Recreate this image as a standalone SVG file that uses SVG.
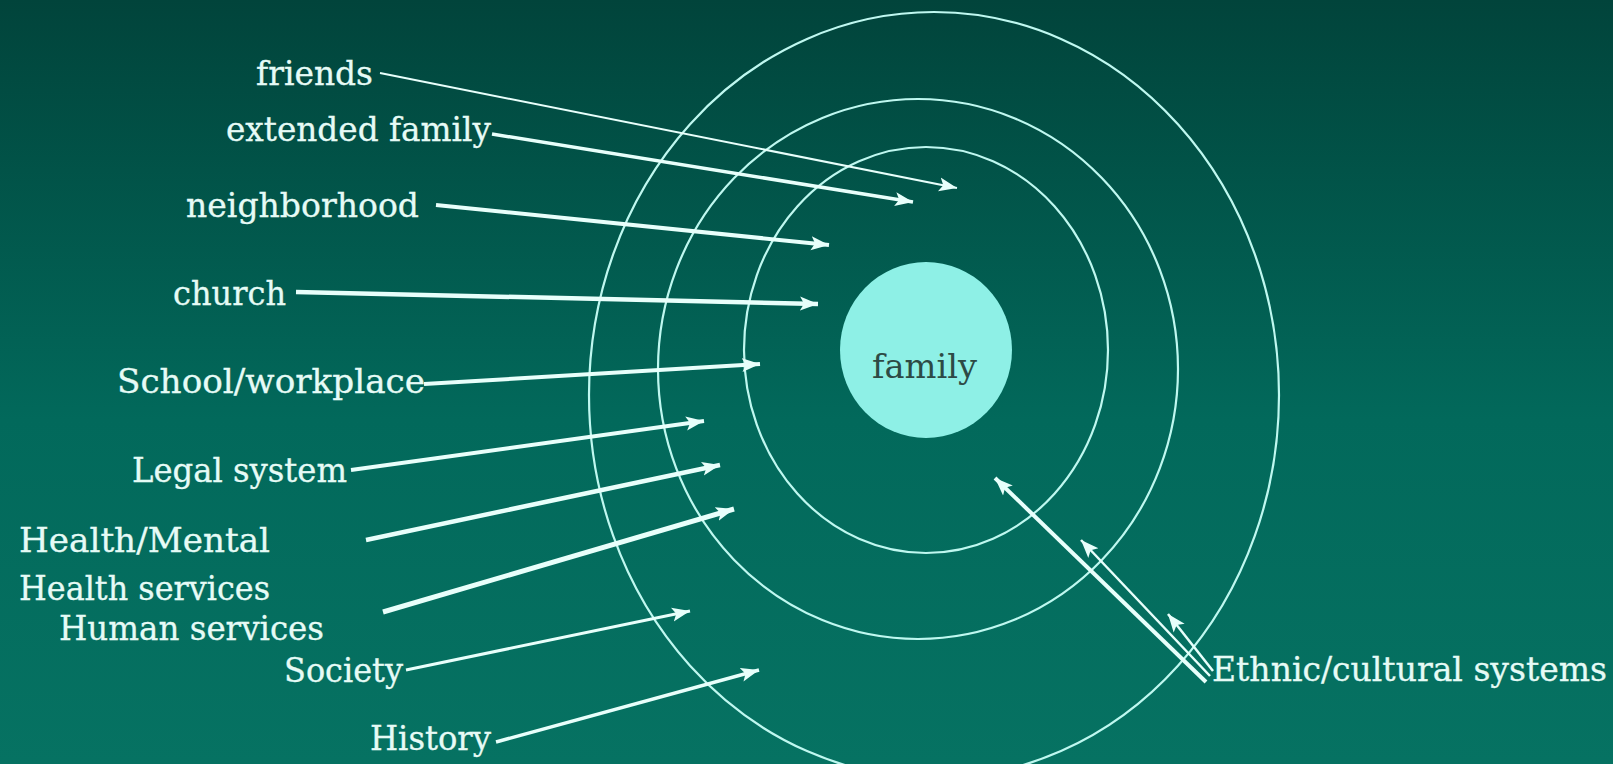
<svg xmlns="http://www.w3.org/2000/svg" width="1613" height="764" viewBox="0 0 1613 764">
  <defs>
    <linearGradient id="bg" x1="0" y1="0" x2="0" y2="1">
      <stop offset="0" stop-color="#01443b"/>
      <stop offset="0.55" stop-color="#02695b"/>
      <stop offset="1" stop-color="#067262"/>
    </linearGradient>
    <marker id="ah" markerUnits="userSpaceOnUse" markerWidth="20" markerHeight="16" refX="18" refY="8" orient="auto" viewBox="0 0 20 16">
      <path d="M0,1 L18,8 L0,15 L4,8 Z" fill="#e8fffb"/>
    </marker>
    <style>
      .lbl { font-family: "DejaVu Serif", "Liberation Serif", serif; font-size: 33px; fill: #e6fbf6; stroke: #e6fbf6; stroke-width: 0.3; }
      .ring { fill: none; stroke: #bff8f0; stroke-width: 2.2; }
      .arr { stroke: #e8fffb; fill: none; stroke-linecap: butt; marker-end: url(#ah); }
    </style>
  </defs>
  <rect x="0" y="0" width="1613" height="764" fill="url(#bg)"/>

  <g id="rings">
    <ellipse id="ring-outer" class="ring" cx="934" cy="395" rx="345" ry="383"/>
    <ellipse id="ring-middle" class="ring" cx="918" cy="369" rx="260" ry="270"/>
    <ellipse id="ring-inner" class="ring" cx="926" cy="350" rx="182" ry="203"/>
  </g>

  <g id="family">
    <ellipse cx="926" cy="350" rx="86" ry="88" fill="#8ef0e6"/>
    <text x="924.5" y="378" text-anchor="middle" font-family="DejaVu Serif, Liberation Serif, serif" font-size="33" fill="#2d4a45" textLength="105" lengthAdjust="spacingAndGlyphs">family</text>
  </g>

  <g id="connectors">
    <line class="arr" x1="380" y1="73" x2="957" y2="188" stroke-width="2"/>
    <line class="arr" x1="492" y1="134" x2="913" y2="202" stroke-width="3.5"/>
    <line class="arr" x1="436" y1="205" x2="829" y2="245" stroke-width="4"/>
    <line class="arr" x1="296" y1="292" x2="818" y2="304" stroke-width="4.5"/>
    <line class="arr" x1="424" y1="384" x2="760" y2="364" stroke-width="4"/>
    <line class="arr" x1="351" y1="470" x2="704" y2="421" stroke-width="4"/>
    <line class="arr" x1="366" y1="540" x2="720" y2="465" stroke-width="4.5"/>
    <line class="arr" x1="383" y1="612" x2="734" y2="509" stroke-width="5"/>
    <line class="arr" x1="406" y1="670" x2="690" y2="611" stroke-width="3"/>
    <line class="arr" x1="496" y1="742" x2="759" y2="670" stroke-width="3.5"/>
    <line class="arr" x1="1206" y1="682" x2="995" y2="478" stroke-width="4"/>
    <line class="arr" x1="1210" y1="676" x2="1081" y2="540" stroke-width="2.5"/>
    <line class="arr" x1="1213" y1="671" x2="1168" y2="614" stroke-width="2.5"/>
  </g>

  <g id="friends"><text class="lbl" x="256" y="85" textLength="117" lengthAdjust="spacingAndGlyphs">friends</text></g>
  <g id="extended-family"><text class="lbl" x="226" y="141" textLength="265" lengthAdjust="spacingAndGlyphs">extended family</text></g>
  <g id="neighborhood"><text class="lbl" x="186" y="217" textLength="233" lengthAdjust="spacingAndGlyphs">neighborhood</text></g>
  <g id="church"><text class="lbl" x="173" y="305" textLength="113" lengthAdjust="spacingAndGlyphs">church</text></g>
  <g id="school-workplace"><text class="lbl" x="117" y="393" textLength="308" lengthAdjust="spacingAndGlyphs">School/workplace</text></g>
  <g id="legal-system"><text class="lbl" x="132" y="482" textLength="215" lengthAdjust="spacingAndGlyphs">Legal system</text></g>
  <g id="health-mental">
    <text class="lbl" x="19" y="552" textLength="251" lengthAdjust="spacingAndGlyphs">Health/Mental</text>
    <text class="lbl" x="19" y="600" textLength="251" lengthAdjust="spacingAndGlyphs">Health services</text>
  </g>
  <g id="human-services"><text class="lbl" x="59" y="640" textLength="265" lengthAdjust="spacingAndGlyphs">Human services</text></g>
  <g id="society"><text class="lbl" x="284" y="682" textLength="119" lengthAdjust="spacingAndGlyphs">Society</text></g>
  <g id="history"><text class="lbl" x="370" y="750" textLength="121" lengthAdjust="spacingAndGlyphs">History</text></g>
  <g id="ethnic-cultural"><text class="lbl" x="1212" y="681" textLength="395" lengthAdjust="spacingAndGlyphs">Ethnic/cultural systems</text></g>
</svg>
